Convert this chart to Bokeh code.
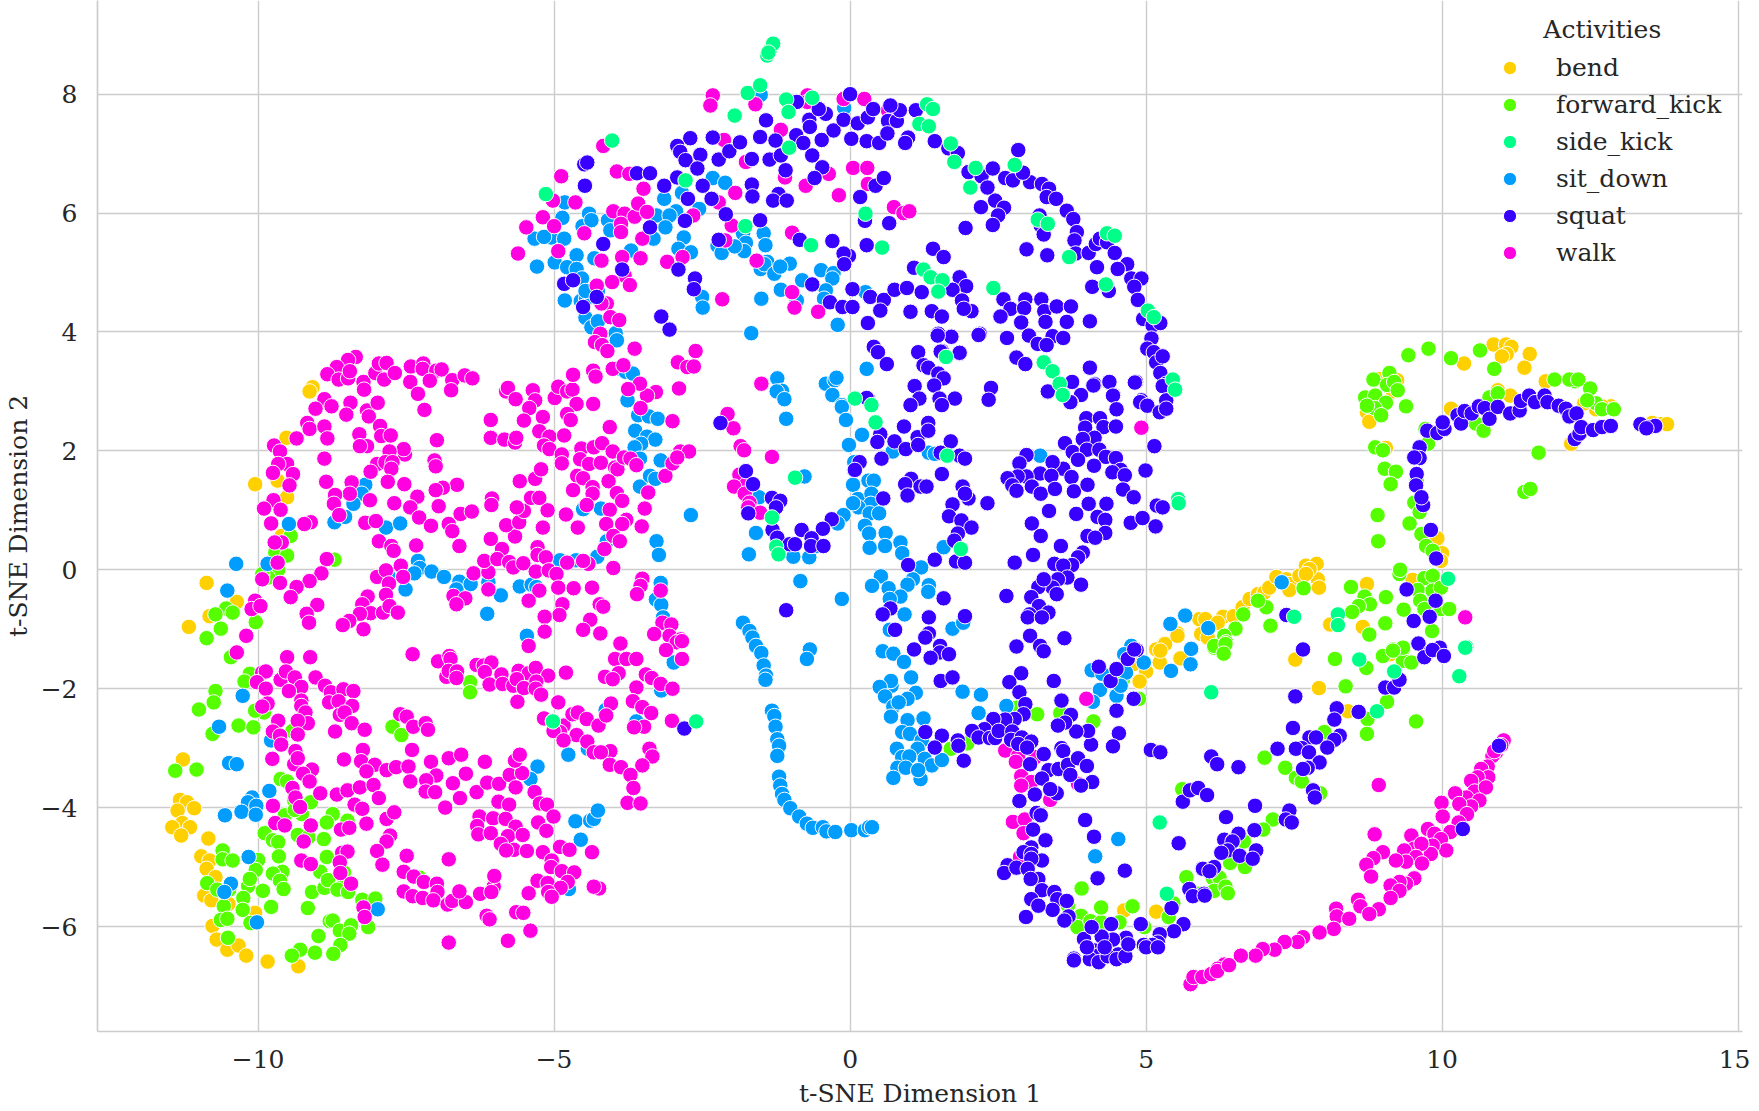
from bokeh.plotting import figure
from bokeh.models import Range1d, FixedTicker, Legend, LegendItem, Label, ColumnDataSource
from bokeh.embed import file_html
from bokeh.resources import INLINE

bend = [(-9.08,3.07),(-9.13,3.0),(-9.52,2.22),(-10.05,1.44),(-9.67,1.5),(-9.51,1.22),(-9.6,0.57),(-10.87,-0.22),(-10.36,-0.54),(-10.82,-0.78),(-11.17,-0.96),
(-11.27,-3.19),(-11.32,-3.87),(-11.2,-3.91),(-11.08,-4.01),(-11.36,-4.05),(-11.28,-4.26),(-11.15,-4.33),(-11.45,-4.33),(-11.3,-4.47),(-10.84,-4.52),(-10.96,-4.82),(-10.82,-4.89),(-10.87,-5.03),(-10.72,-5.17),(-10.91,-5.48),(-10.79,-5.56),(-10.05,-5.77),(-10.5,-5.62),(-10.77,-5.99),(-10.7,-6.22),(-10.52,-6.39),(-10.33,-6.32),(-10.2,-6.49),(-9.84,-6.59),(-9.32,-6.67),
(10.87,3.79),(11.08,3.79),(11.17,3.75),(11.09,3.63),(11.01,3.59),(11.48,3.63),(10.37,3.47),(11.39,3.4),(11.75,3.17),(9.17,3),(9.24,3.19),(8.94,3.21),(8.73,2.65),(8.77,2.49),(10.15,2.71),(10.94,3.02),(11.15,2.93),(12.18,2.12),(9.05,2.05),(9.92,.53),(10,.28),(9.98,.15),(5.53,-1.07),(5.31,-1.24),(9.5,-.17),(8.73,-.24),(8.66,-.96),(8.11,-.92),
(5.17,-1.34),(5.9,-.83),(6,-.83),(6.3,-.79),(6.21,-.89),(5.93,-1.08),(6.04,-1.14),(6.48,-.78),(6.63,-.63),(6.75,-.49),(6.89,-.41),(7,-.38),(7.08,-.3),(7.2,-.12),(7.37,-.16),(7.42,-.24),(7.42,-.34),(7.59,-.1),(7.7,.07),(7.88,.1),(7.9,-.16),(7.92,-.3),(7.76,.01),(7.7,-.07),
(4.63,-5.73),(5.17,-5.75),(4.78,-1.59),(5,-1.71),(4.89,-1.88),(5.23,-1.56),(5.32,-1.25),(5.58,-1.49),(5.53,-1.11),(5.24,-1.36),(7.52,-1.51),(7.92,-1.99),(8.41,-2.38),(9.12,-1.42),
(13.7,2.45),(13.8,2.45),(13.55,2.47),(12.85,2.75),(12.6,2.7),(12.4,2.8),(12.7,2.75)]

forward_kick = [(-9.45,0.57),(-9.71,0.29),(-9.51,0.24),(-8.71,0.17),(-9.66,0.0),(-9.83,-0.13),(-9.93,-0.07),(-10.54,-0.65),(-10.72,-0.75),(-10.43,-0.72),(-10.04,-0.88),(-10.63,-0.99),(-10.87,-1.15),(-10.46,-1.47),
(-10.14,-1.75),(-10.23,-1.88),(-10.72,-2.04),(-10.75,-2.23),(-11.0,-2.35),(-9.9,-2.4),(-10.05,-2.37),(-10.77,-2.76),(-10.33,-2.62),(-10.08,-2.65),(-9.42,-2.71),(-11.4,-3.38),(-11.04,-3.36),(-9.62,-3.52),(-9.51,-3.56),(-9.39,-3.88),(-9.11,-3.91),(-9.55,-4.13),(-9.26,-4.11),(-9.38,-4.04),(-8.74,-4.11),(-8.84,-4.25),(-8.49,-4.22),(-9.89,-4.43),(-9.75,-4.55),(-9.66,-4.58),(-9.33,-4.46),(-9.15,-4.5),(-8.89,-4.53),(-9.65,-4.82),(-8.84,-4.83),(-10.6,-4.72),(-10.6,-4.87),(-10.43,-4.89),(-10.0,-4.88),(-10.04,-5.05),(-9.59,-5.08),(-9.75,-5.11),(-9.63,-5.23),(-9.57,-5.37),(-9.92,-5.4),(-10.17,-5.32),(-10.14,-5.2),(-10.86,-5.27),(-10.69,-5.38),(-10.49,-5.38),(-10.25,-5.52),(-10.58,-5.66),(-10.26,-5.72),(-9.78,-5.67),(-9.16,-5.69),(-9.09,-5.42),(-8.88,-5.35),(-8.95,-5.08),(-8.82,-5.22),(-8.54,-5.26),(-8.55,-5.09),(-8.66,-5.38),(-8.48,-5.42),(-8.24,-5.55),(-8.02,-5.53),(-10.13,-5.94),(-10.63,-5.89),(-10.52,-5.87),(-8.79,-5.91),(-8.74,-5.9),(-8.62,-6.07),(-8.43,-5.98),(-8.46,-6.12),(-8.14,-6.01),(-8.98,-6.16),(-10.51,-6.19),(-8.61,-6.31),(-8.73,-6.46),(-9.04,-6.44),(-9.29,-6.39),(-9.43,-6.49),(-7.73,-2.64),(-7.58,-2.78),(-6.42,-1.89),(-6.42,-2.06),(-7.27,-5.18),
(2.81,-2.32),(3.16,-2.43),(3.55,-2.41),(4.11,-2.55),(1.7,-3.01),(1.98,-2.92),(3.91,-5.36),(3.68,-5.65),(3.9,-5.82),(3.84,-6.01),(4.06,-5.91),(4.88,-2.17),(5.61,-3.69),(4.61,-1.84),
(9.43,3.61),(9.77,3.72),(10.15,3.56),(10.64,3.69),(10.88,3.38),(12.25,3.17),(10.8,2.9),(10.94,2.97),(10.57,2.46),(10.7,2.34),(9.39,2.75),(9.11,3.31),(8.84,3.2),(9.07,3.11),(9.19,3.16),(9.25,3.02),(8.7,2.9),(8.87,2.93),(9.05,2.81),(8.86,2.72),(8.73,2.76),(8.97,2.6),(8.87,2.06),(9,2.01),(9.03,1.7),(9.22,1.65),(9.13,1.44),(8.91,.92),(8.92,.48),(9.45,.78),(9.65,.6),(9.53,1.13),(9.62,.97),(11.63,1.97),(11.39,1.31),(11.49,1.36),(9.76,2.12),(9.72,2.37),(9.57,1.5),(9.73,.4),(9.84,.32),(9.28,-.07),(9.29,0),(9.7,-.14),(9.84,-.1),(9.59,-.34),(9.84,-.35),(9.98,-.3),(9.63,-.52),(9.7,-.66),(9.98,-.66),(10.12,-.66),(9.35,-.67),(9.04,-.9),(9.83,-1.03),(9.05,-.46),(8.46,-.29),(8.69,-.45),(8.78,-.58),(8.59,-.61),(8.48,-.71),(8.77,-1.09),(7.1,-.94),(7.03,-.63),(6.89,-.52),(6.64,-.75),(6.51,-.99),(7.66,-.31),(6.32,-1.11),(6.35,-1.22),(6.15,-1.31),(9.34,-1.34),(9.17,-1.34),
(8.19,-1.5),(8.72,-1.65),(8.37,-1.96),(9.07,-2.22),(8.74,-2.51),(8.73,-2.76),(9.56,-2.55),(8.01,-2.73),(7,-3.16),(7.35,-3.33),(7.53,-3.5),(7.63,-3.56),(7.94,-3.76),(7.14,-4.2),(6.98,-4.37),(6.65,-4.57),(6.42,-4.93),(6.67,-5),(5.68,-5.17),(6.13,-5.19),(6.24,-5.18),(6.15,-5.4),(6.34,-5.33),(6.38,-5.44),(5.88,-5.45),(5.46,-5.61),(5.38,-5.84),(4.97,-6.01),(4.77,-5.66),(4.55,-5.93),(4.24,-5.93),(4.24,-5.68),(6.15,-1.28),(6.34,-1.25),(6.31,-1.41),(9,-1.45),(9.34,-1.53),(9.48,-1.56),(9.34,-1.31),(9.17,-1.36),
(11.9,3.2),(12.15,3.2),(12.3,3.2),(12.5,3.05),(12.6,2.8),(12.45,2.85),(12.7,2.7),(12.9,2.7)]

side_kick = [(-1.4,8.65),(-1.35,8.75),(-1.3,8.85),(-1.38,8.7),
(-1.73,8.02),(-1.52,8.15),(-1.95,7.64),(-1.08,7.91),(-0.64,7.94),(-1.04,7.7),(-4.02,7.22),(-1.03,7.1),(1.3,7.83),(1.4,7.75),(1.17,7.5),(1.33,7.46),(1.7,7.17),(1.76,6.86),(2.12,6.76),(2.78,6.81),(2.03,6.43),(-2.78,6.55),(-5.14,6.32),(.26,5.99),(-1.77,5.78),(-.66,5.46),(.54,5.42),(3.17,5.89),(3.34,5.82),(4.34,5.66),(4.47,5.62),(4.32,4.8),(3.7,5.26),(1.24,5.05),(1.36,4.92),(1.56,4.87),(1.49,4.68),(2.42,4.74),(5.03,4.36),(5.13,4.25),(1.62,3.58),(3.27,3.49),(3.42,3.34),(3.54,3.13),(3.59,2.94),(5.45,3.2),(5.49,3.03),(.08,2.88),(.36,2.77),
(.43,2.48),(1.64,1.92),(-.93,1.55),(5.54,1.19),(5.55,1.12),(-1.32,.88),(-1.25,.39),(-1.21,.26),(1.87,.35),
(5.23,-4.25),(6.1,-2.06),(5.35,-5.45),(10.1,-.15),(7.5,-.79),(8.24,-.75),(8.24,-.93),(10.41,-1.3),(8.6,-1.51),(8.9,-2.38),(9.19,-1.71),(10.39,-1.31),(10.29,-1.79),(-5.02,-2.55),(-2.6,-2.55)]

sit_down = [(-9.48,0.77),(-10.37,0.1),(-10.52,-0.35),(-9.84,0.10),(-8.19,1.43),(-8.25,1.28),(-8.39,1.11),(-8.71,0.80),(-8.53,0.89),(-7.84,0.71),(-7.6,0.78),(-7.3,0.15),(-7.27,0.03),(-7.36,-0.06),(-7.07,-0.03),(-6.86,-0.12),(-6.6,-0.2),(-6.65,-0.33),(-6.41,-0.24),(-6.11,-0.21),(-5.9,-0.43),(-6.13,-0.74),(-5.58,-0.28),(-5.38,-0.25),(-5.3,-0.29),(-5.46,-1.11),(-7.51,-0.33),(-7.79,-0.12),(-4.9,0.16),(-4.63,0.16),(-4.27,0.22),(-4.11,0.48),(-4.21,1.03),(-4.51,1.02),(-3.55,1.4),(-3.38,1.58),(-3.29,1.53),(-3.2,1.84),(-3.58,2.6),(-3.4,2.58),(-3.25,2.54),(-3.76,2.85),(-3.63,2.34),(-3.43,2.24),(-3.29,2.19),(-3.53,2.12),(-3.64,2.06),(-3.55,1.87),(-3.88,3.38),(-3.79,3.33),(-3.67,3.3),(-3.97,3.97),(-3.94,3.86),(-2.69,0.92),(-3.27,0.48),(-3.23,0.25),(-3.2,-0.22),(-3.28,-0.5),(-3.19,-0.59),(-3.16,-0.8),
(-10.26,-2.12),(-10.66,-2.64),(-9.78,-2.87),(-10.49,-3.25),(-10.36,-3.27),(-9.81,-3.72),(-10.1,-3.83),(-10.17,-3.91),(-10.03,-3.97),(-10.28,-4.07),(-10.04,-4.12),(-10.56,-4.13),(-10.16,-4.83),(-10.46,-5.28),(-10.57,-5.42),(-10.02,-5.93),(-7.98,-5.71),(-4.13,-2.36),(-3.61,-2.55),(-3.19,-2.03),(-2.98,-1.56),(-4.76,-3.11),(-4.43,-3.01),(-5.28,-3.31),(-5.4,-3.52),(-4.64,-4.23),(-4.39,-4.22),(-4.33,-4.19),(-4.26,-4.05),(-4.55,-4.54),(-4.75,-5.37),
(-1.51,7.99),(-.1,7.77),(-4.82,6.18),(-4.86,5.92),(-4.41,5.99),(-4.52,5.78),(-4.37,5.88),(-4.09,5.88),(-4.05,5.71),(-5.33,5.57),(-5.05,5.59),(-4.83,5.57),(-5.17,5.6),(-3.14,6.24),(-2.84,6.34),(-3.27,5.96),(-2.94,6.03),(-3.05,5.96),(-3.12,5.76),(-3.32,5.57),(-2.81,5.59),(-2.9,5.4),(-2.69,5.34),(-2.55,6.07),(-2.32,6.59),(-2.11,6.51),(-1.81,5.66),(-1.76,5.5),(-1.46,5.66),(-1.43,5.46),(-1.79,5.36),(-2.24,5.45),(-2.17,5.33),(-1.95,5.44),(-3.7,5.37),(-4.62,5.29),(-4.32,5.24),(-5.29,5.1),(-4.99,5.17),(-4.78,5.09),(-4.62,5.06),(-4.53,4.9),(-1.51,5.06),(-1.4,5.18),(-1.45,5.14),(-1.02,5.15),(-1.28,4.98),(-1.18,5.1),(-.49,5.04),(-.28,4.99),(-.3,4.9),(-.81,4.87),(-1.17,4.71),(-.41,4.7),(-.44,4.56),(-.9,4.53),(.26,4.67),(-1.5,4.56),(-2.5,4.59),(-2.49,4.41),(-4.82,4.53),(-4.55,4.52),(-4.46,4.56),(-4.26,4.69),(-4.47,4.69),(-4.47,4.24),(-4.37,4.08),(-4.26,4.18),(-3.96,3.98),(-3.94,3.86),(-.21,4.12),(-1.67,3.98),(.28,3.38),(-1.23,3.22),(-1.15,3.01),(-1.24,3.0),(-1.11,2.87),(-.41,3.13),(-.26,3.19),(-.23,3.23),(-.3,2.94),(-.14,2.77),
(-1.08,2.54),(-.14,2.74),(-.07,2.52),(.2,2.27),(-.02,2.1),(.72,1.99),(1.33,1.97),(1.43,1.95),(.07,1.81),(.07,1.67),(.31,1.5),(.05,1.43),(.4,1.5),(.13,1.19),(.36,1.28),(.35,1.11),(.14,1.05),(.05,1.12),(.33,.95),(.49,.95),(-.11,.92),(-.21,.78),(-.77,1.57),(-1.54,1.22),(-1.59,.62),(-1.71,.26),(-.96,.22),(-.69,.21),(-.57,.4),(.25,.74),(.32,.61),(.6,.62),(.33,.37),(.59,.4),(.85,.46),(.88,.28),(1.2,.04),(1.06,-.16),(.97,-.25),(1.33,-.26),(1.32,-.37),(1.58,.38),(.52,-.11),(.37,-.27),(.65,-.31),(.85,-.45),(.67,-.49),(.92,-.75),(-.84,-.19),(-.14,-.49),(-1.81,-.89),(-1.7,-1.03),(-1.65,-1.14),(-1.59,-1.28),(-1.5,-1.4),(-.68,-1.34),(-.73,-1.5),(1.73,-.99),(1.91,-.89),(.55,-1.37),(.73,-1.41),(.67,-1.01),(3.21,1.92),
(-1.46,-1.61),(-1.42,-1.78),(-1.43,-1.85),(.91,-1.55),(1.03,-1.81),(1.11,-2.07),(.97,-2.17),(.7,-1.95),(.69,-1.87),(.5,-1.97),(.59,-2.13),(.73,-2.3),(.82,-2.23),(.69,-2.47),(.97,-2.53),(1.24,-2.5),(.88,-2.73),(1.01,-2.76),(1.21,-2.87),(.79,-3.01),(.88,-3.15),(1.14,-3.01),(1,-3.14),(1.26,-3.18),(1.38,-3.29),(1.55,-3.2),(.8,-3.33),(.94,-3.33),(.73,-3.5),(1.19,-3.52),(1.15,-3.37),(1.9,-2.05),(2.21,-2.1),(2.17,-2.41),(2.64,-2.29),(-1.32,-2.37),(-1.28,-2.46),(-1.26,-2.64),(-1.23,-2.85),(-1.2,-2.96),(-1.23,-3.13),(-1.2,-3.48),(-1.18,-3.63),(-1.15,-3.77),(-1.11,-3.87),(-1.01,-4.01),(-.86,-4.15),(-.73,-4.27),(-.63,-4.34),(-.46,-4.33),(-.4,-4.4),(-.25,-4.41),(.02,-4.38),(.25,-4.38),(.32,-4.33),(.37,-4.33),
(4.08,-1.69),(4.22,-2.02),(4.1,-2.22),(4.26,-1.75),(4.5,-2.12),(4.66,-1.73),(4.75,-1.28),(4.63,-1.42),(4.96,-1.56),(4.57,-1.95),(5.76,-1.33),(5.42,-1.7),(5.75,-1.59),(4.14,-4.82),(4.53,-4.53),(5.41,-.91),(5.66,-.77),(6.05,-.98),(7.29,-.21)]

squat = [(0,8.0),(-.9,7.87),(-1.42,7.56),(-2.7,7.26),(-2.32,7.27),(-2.92,7.13),(-2.87,7.03),(-2.78,6.89),(-2.53,6.98),(-2.58,6.75),(-2.22,6.9),(-2.04,7.04),(-1.86,7.19),(-1.66,6.91),(-1.52,7.28),(-1.36,6.9),(-1.26,7.22),(-1.17,6.97),(-1.09,6.72),(-.91,7.31),(-.79,7.18),(-.64,6.97),(-.48,7.23),(-.47,6.77),(-.6,6.59),(-.28,7.39),(-.69,7.57),(-.41,7.67),(-.68,7.45),(-.53,7.75),(-.11,7.57),(.02,7.25),(.13,7.51),(.28,7.21),(.3,7.61),(.39,7.75),(.49,7.18),(.64,7.55),(.63,7.34),(.79,7.55),(.84,7.73),(.68,7.81),(1.11,7.73),(.98,7.27),(.93,7.18),(1.43,7.21),(1.66,7.09),(1.82,7.01),(2.84,7.06),(-4.49,6.82),(-4.44,6.85),(-4.48,6.46),(-3.6,6.67),(-3.38,6.67),(-3.14,6.46),(-2.92,6.6),(-2.49,6.46),(-2.34,6.24),(-1.66,6.48),(-1.65,6.28),(-1.21,6.32),(-1.3,6.21),(-1.07,6.21),(-2.74,6.24),(-2.1,5.98),(-2.79,5.87),(-3.38,5.76),(-1.52,5.88),(-4.17,5.48),(-2.22,5.55),(-.85,5.55),(-.3,5.53),(.28,5.46),(-.02,5.28),(-.11,5.32),(-.1,5.14),(.43,6.46),(.57,6.59),(.17,6.27),(.25,5.87),(.66,5.83),(1.95,5.75),(2.21,6.1),(2.45,6.21),(2.6,6.09),(2.5,5.96),(2.41,5.8),(2.0,6.69),(2.22,6.62),(2.41,6.75),(2.32,6.43),(2.62,6.59),(2.75,6.55),(3.04,6.52),(3.24,6.49),(2.92,6.68),(3.36,6.41),(3.32,6.27),(3.48,6.24),(3.66,6.04),(3.77,5.9),(3.2,5.96),(3.22,5.79),(3.27,5.64),(3.83,5.68),(3.79,5.54),(2.98,5.39),(3.33,5.29),(3.81,5.32),(4.03,5.33),(4.15,5.48),(4.22,5.57),(4.34,5.51),(4.47,5.33),(4.17,5.09),(4.68,5.14),(4.52,5.06),(4.75,4.9),(4.92,4.9),(4.8,4.76),(4.09,4.76),(4.37,4.69),(4.86,4.54),(4.95,4.22),(5.11,4.11),(5.24,4.15),(5.09,3.89),(5.02,3.72),(5.13,3.66),(5.17,3.49),(5.28,3.59),(5.24,3.31),(5.34,3.13),(5.28,3.09),(5.34,2.85),(4.92,2.85),(5.02,2.77),(4.83,3.16),
(-2.9,5.05),(-2.62,4.9),(-2.64,4.72),(-3.85,5.05),(-4.83,4.81),(-4.68,4.87),(-4.28,4.59),(-4.51,4.42),(-3.19,4.26),(-3.05,4.04),(-.64,4.8),(-.34,4.5),(-.13,4.42),(.04,4.42),(.04,4.72),(.34,4.59),(.57,4.54),(.51,4.36),(.3,4.15),(.75,4.71),(.96,4.74),(1.21,4.67),(1.08,5.08),(1.85,4.92),(1.96,4.77),(1.73,4.71),(1.89,4.53),(2.05,4.35),(1.92,4.39),(1.4,5.4),(1.58,5.26),(1.02,4.34),(1.38,4.35),(1.55,4.26),
(2.59,4.55),(2.71,4.39),(2.54,4.26),(2.96,4.55),(2.94,4.4),(3.23,4.55),(3.28,4.35),(3.49,4.43),(3.73,4.43),(2.89,4.16),(3.3,4.17),(3.66,4.17),(4.05,4.18),(2.19,3.97),(1.49,3.97),(1.71,3.93),(2.65,3.9),(3.02,3.94),(3.17,3.8),(3.42,3.93),(3.6,3.9),(3.32,3.78),(.4,3.75),(.47,3.66),(.62,3.46),(1.15,3.66),(1.55,3.68),(1.85,3.64),(1.24,3.44),(1.32,3.4),(1.49,3.3),(1.58,3.22),(2.81,3.57),(2.96,3.46),(4.05,3.4),(3.75,3.16),(4.13,3.12),(4.37,3.16),(4.45,2.94),(3.9,2.94),(3.34,2.99),(3.73,2.82),(1.09,3.09),(1.42,3.1),(1.17,2.88),(1.51,2.88),(1.77,2.88),(2.38,3.06),(2.34,2.86),(.3,2.88),(1.02,2.77),(1.55,2.77),
(1.53,3.67),(1.85,3.65),(1.71,3.92),(1.48,3.94),(2.17,3.95),(4.11,3.1),(4.38,3.16),(4.81,3.15),(4.44,2.93),(3.72,2.82),(3.34,3.0),(4.5,2.7),(.28,2.89),(4.9,2.82),(5.02,2.76),(5.23,2.65),(5.34,2.71),(3.99,2.55),(4.22,2.55),(4.28,2.4),(4.49,2.41),(3.97,2.39),(4.13,2.22),(3.93,2.2),(3.63,2.13),(3.76,1.98),(4,2.02),(4.21,2.02),(3.85,1.85),(4.32,1.9),(4.49,1.88),(4.12,1.75),(4.57,1.68),(4.43,1.64),(4.64,1.59),(4.99,1.67),(5.14,2.08),(3.6,1.7),(3.74,1.56),(3.42,1.81),(2.98,1.93),(2.86,1.79),(3.21,1.62),(3.4,1.58),(2.98,1.57),(2.83,1.57),(2.66,1.54),(2.74,1.42),(2.81,1.33),(3.07,1.4),(3.22,1.28),(3.46,1.36),(3.78,1.32),(4.01,1.43),(4.61,1.35),(4.79,1.22),(4.03,1.11),(4.33,1.11),(3.36,.99),(3.82,.94),(4.18,.89),(4.31,.84),(4.74,.79),(4.94,.87),(5.16,.73),(5.18,1.08),(5.28,1.05),(3.07,.78),(3.22,.57),(4.01,.57),(4.31,.62),(4.14,.54),(3.56,.4),(3.09,.25),(2.78,.12),(3.93,.29),(3.85,.21),(3.75,.08),(3.45,.1),(3.6,.07),(3.67,-.13),(3.51,-.16),(3.9,-.25),(3.42,-.3),(3.18,-.29),(3.27,-.16),(3.49,-.41),(3.06,-.46),(2.64,-.44),(3.19,-.61),(3.35,-.72),(3.03,-.75),(3,-.8),(3.24,-.8),(3.04,-1.11),(2.81,-1.29),(3.21,-1.28),(3.62,-1.15),(3.27,-1.37),
(-2.19,2.47),(-1.76,1.66),(.91,2.41),(1.32,2.47),(.51,2.28),(.46,2.15),(.75,2.16),(.94,2.03),(1.14,2.23),(1.15,2.1),(1.32,2.34),(1.7,2.16),(1.53,1.97),(1.85,1.92),(1.94,1.87),(.53,1.87),(.16,1.81),(.08,1.68),(1.55,1.61),(1.03,1.53),(.93,1.44),(1.19,1.4),(1.29,1.4),(.97,1.25),(.56,1.2),(-1.64,1.44),(-1.32,1.21),(-1.18,1.16),(-1.25,1.05),(-1.72,.95),(1.9,1.4),(2,1.2),(1.94,1.28),(1.73,1.1),(2.32,1.12),(1.67,.9),(1.88,.83),(2.05,.71),(1.82,.61),(1.76,.49),(1.79,.14),(1.94,.12),(1.43,.17),(.98,.08),(-.31,.85),(-.46,.69),(-.82,.67),(-1.31,.67),(-1.23,.54),(-1.02,.43),(-.93,.43),(-.65,.53),(-.66,.4),(-.45,.4),(-1.08,-.68),(.68,-.65),(.55,-.75),(.76,-1.01),(1.58,-.48),(1.33,-.8),(1.94,-.78),(1.33,-1.07),(1.27,-1.14),(1.08,-1.34),(1.52,-1.28),(1.52,-1.39),(1.67,-1.42),(1.36,-1.48),
(4.2,-1.63),(4.4,-1.87),(4.5,-1.67),(4.69,-1.5),(4.84,-1.35),(4.79,-2.17),(4.5,-2.37),(4.54,-2.75),(4.44,-2.97),(4.07,-2.94),(4.02,-2.71),(3.82,-2.72),(3.73,-2.44),(3.63,-2.57),(3.51,-2.62),(3.57,-2.2),(3.44,-1.87),(2.89,-1.74),(2.69,-1.89),(2.86,-2.06),(2.96,-2.26),(2.93,-2.43),(2.78,-2.51),(2.62,-2.52),(2.42,-2.51),(2.27,-2.68),(2.06,-2.71),(2.17,-2.82),(2.36,-2.83),(2.45,-2.83),(2.51,-2.71),(2.74,-2.72),(2.72,-2.86),(2.9,-2.82),(3.06,-2.89),(2.84,-2.93),(2.99,-2.99),(3.27,-3.1),(3.04,-3.27),(3.35,-3.37),(3.24,-3.51),(3.52,-3.35),(3.57,-3),(3.6,-3.05),(3.68,-3.28),(3.85,-3.17),(4,-3.3),(3.72,-3.45),(4.09,-3.57),(3.9,-3.63),(3.12,-3.78),(3.49,-3.76),(3.38,-3.69),(2.86,-3.89),(3.15,-4.09),(3.22,-4.13),(3.09,-4.37),(3.3,-4.55),(3.06,-4.67),(2.93,-4.75),(3.06,-4.78),(3.24,-4.89),(3.06,-4.86),(2.66,-4.97),(2.6,-5.1),(2.81,-5.01),(3,-5.03),(3.18,-5.2),(3.05,-5.2),(3.24,-5.39),(3.06,-5.54),(3.45,-5.42),(3.5,-5.54),(3.66,-5.57),(3.42,-5.72),(3.69,-5.83),(3.62,-5.9),(2.97,-5.84),(3.18,-5.65),(3.97,-4.21),(4.12,-4.49),(4.18,-5.19),(4.64,-5.06),(5.55,-4.6),(5.08,-3.03),(5.24,-3.07),(6.1,-3.14),(6.2,-3.27),(6.56,-3.32),(5.62,-3.9),(5.74,-3.71),(5.88,-3.67),(6.03,-3.79),(6.35,-4.16),(6.32,-4.54),(6.47,-4.55),(5.95,-5.03),(6.1,-5.06),(5.78,-5.48),(5.98,-5.45),(5.43,-5.69),(5.63,-5.96),(5.47,-6.08),(5.23,-6.13),(5.2,-6.27),(5.11,-6.31),(4.96,-6.31),(4.91,-5.96),(4.41,-5.96),(4.66,-6.19),(4.44,-6.22),(4.25,-6.17),(3.95,-6.21),(4.11,-6.4),(4.18,-6.49),(4.53,-6.47),(3.78,-6.54),(4.08,-6.01),
(1.55,-2.79),(1.27,-2.73),(1.82,-2.87),(1.83,-2.96),(1.92,-3.21),(1.43,-2.99),(1.53,-1.87),(1.73,-1.81),(3.78,-6.57),(4.05,-6.55),(4.2,-6.6),(4.35,-6.5),(4.5,-6.55),(4.65,-6.5),(4.7,-6.3),(4.3,-6.35),(4.0,-6.35),(5.0,-6.35),(5.2,-6.35),
(9.62,2.06),(9.62,1.88),(9.53,1.89),(9.57,1.61),(9.56,1.42),(9.68,1.09),(9.65,1.22),(9.81,.67),(9.9,.19),(9.75,2.34),(9.92,2.3),(10.04,2.37),(10.01,2.48),(10.26,2.6),(10.32,2.46),(10.38,2.67),(10.5,2.63),(10.62,2.75),(10.72,2.72),(10.8,2.54),(10.94,2.74),(11.15,2.63),(11.31,2.68),(11.33,2.84),(11.47,2.93),(11.57,2.82),(11.73,2.93),(11.78,2.82),(11.97,2.76),(12.09,2.71),(12.15,2.58),(12.27,2.63),(12.24,2.2),(12.32,2.29),(12.35,2.4),(12.55,2.35),(12.7,2.4),(12.85,2.42),(13.35,2.45),(13.5,2.4),(13.6,2.42),(13.45,2.38),
(9.4,-.33),(9.89,-.52),(9.79,-.79),(9.52,-.86),(9.6,-1.24),(9.81,-1.37),(9.96,-1.31),(7.37,-.76),(7.65,-1.34),(4.8,-1.34),
(7.52,-2.13),(9.04,-1.98),(9.19,-1.98),(9.28,-1.85),(9.7,-1.47),(9.84,-1.35),(10.03,-1.45),(8.22,-2.33),(8.18,-2.52),(8.59,-2.39),(7.48,-2.66),(7.76,-2.82),(7.87,-2.82),(8.27,-2.79),(8.18,-2.86),(8.06,-2.99),(7.63,-3),(7.53,-3.01),(7.75,-3.07),(7.22,-3.01),(7.93,-3.24),(7.73,-3.33),(7.65,-3.35),(7.82,-3.71),(7.85,-3.83),(7.42,-4.05),(7.36,-4.2),(7.46,-4.25),(6.84,-3.97),(6.83,-4.38),(6.56,-4.44),(6.46,-4.57),(6.38,-4.72),(6.27,-4.76),(6.58,-4.81),(6.86,-4.72),(6.8,-4.86),(5.96,-5.03),(6.15,-5),(6.07,-5.07),(5.73,-5.37),(5.79,-5.49),(5.99,-5.48),(10.96,-2.96),(10.35,-4.36),(-2.8,-2.67)]

walk = [(-8.35,3.58),(-8.48,3.53),(-8.67,3.41),(-8.83,3.29),(-8.64,3.20),(-8.48,3.22),(-8.45,3.34),(-8.22,3.16),(-8.21,3.03),(-8.02,3.31),(-7.96,3.47),(-7.83,3.48),(-7.87,3.20),(-7.69,3.31),(-7.42,3.42),(-7.21,3.47),(-7.22,3.38),(-6.99,3.35),(-6.90,3.37),(-7.43,3.16),(-7.10,3.18),(-7.30,2.96),(-6.72,3.19),(-6.74,3.02),(-6.51,3.27),(-6.38,3.22),(-7.19,2.69),(-8.88,2.87),(-9.03,2.71),(-8.76,2.75),(-8.44,2.81),(-8.51,2.61),(-8.16,2.68),(-8.13,2.58),(-7.98,2.81),(-9.17,2.47),(-9.13,2.37),(-9.35,2.21),(-8.88,2.41),(-8.83,2.21),(-8.29,2.28),(-8.16,2.08),(-8.28,2.08),(-7.94,2.42),(-7.92,2.25),(-7.76,2.26),(-7.52,1.94),(-7.54,2.03),(-7.78,1.99),(-6.98,2.18),(-9.73,2.09),(-9.63,1.99),(-8.88,1.87),(-9.51,1.78),(-9.66,1.78),(-9.75,1.63),(-9.41,1.61),(-9.47,1.42),(-7.99,1.78),(-7.85,1.81),(-7.73,1.81),(-7.75,1.70),(-8.10,1.65),(-7.02,1.84),(-7.00,1.74),(-8.85,1.48),(-8.42,1.47),(-7.81,1.48),(-7.53,1.44),(-6.64,1.43),(-6.88,1.38),(-7.0,1.34),(-8.45,1.28),(-8.70,1.26),(-8.72,1.11),(-8.11,1.17),(-7.31,1.23),(-7.70,1.12),(-7.43,1.05),(-6.95,1.07),(-9.74,1.17),(-9.90,1.03),(-9.62,1.01),(-8.63,0.92),(-7.28,0.88),(-6.58,0.94),(-6.39,0.98),(-9.78,0.78),(-9.11,0.80),(-9.22,0.77),(-8.19,0.79),(-8.01,0.82),(-7.08,0.74),(-6.78,0.77),(-6.72,0.65),(-7.96,0.48),(-7.75,0.40),(-7.71,0.32),(-7.33,0.41),(-6.60,0.40),(-9.60,0.46),(-9.72,0.46),(-9.67,0.12),(-8.84,0.18),(-8.93,-0.06),(-9.13,-0.19),(-9.35,-0.29),(-9.45,-0.46),(-9.63,-0.22),(-9.93,-0.16),(-9.0,-0.59),(-9.18,-0.74),(-9.14,-0.89),(-10.05,-0.52),(-10.11,-0.66),(-9.96,-0.61),(-10.20,-1.11),(-10.36,-1.39),(-9.51,-1.47),(-9.12,-1.47),(-7.99,-0.12),(-7.84,-0.01),(-7.59,0.07),(-7.55,-0.12),(-7.79,-0.23),(-7.84,-0.42),(-8.15,-0.45),(-8.24,-0.58),(-8.10,-0.73),(-8.28,-0.74),(-7.89,-0.72),(-7.78,-0.61),(-7.64,-0.72),(-8.46,-0.86),(-8.57,-0.93),(-8.22,-1.0),(-7.39,-1.42),(-6.70,-0.44),(-6.50,-0.48),(-6.65,-0.58),(-6.36,-0.06),(-6.11,-0.04),(-6.11,-0.33),(-6.18,0.15),(-6.07,0.52),(-5.88,0.35),(-5.96,0.18),(-5.76,0.13),(-5.69,0.04),(-5.52,0.11),(-5.28,0.38),(-5.28,0.25),(-5.14,0.21),(-5.31,-0.03),(-5.09,-0.01),(-4.96,-0.07),(-5.66,0.56),(-5.81,0.75),(-5.59,0.80),(-5.19,0.71),(-5.11,1.0),(-5.51,0.99),(-5.63,1.05),(-5.39,1.21),(-5.25,1.21),(-5.58,1.49),(-5.32,1.53),(-5.22,1.69),(-6.05,1.2),(-6.06,1.09),(-6.07,2.52),(-6.07,2.22),(-5.84,2.19),(-5.66,2.14),(-5.64,2.22),(-5.81,3.0),(-5.78,3.06),(-5.65,2.87),(-5.36,3.02),(-5.32,2.85),(-5.42,2.72),(-5.51,2.51),(-5.19,2.57),(-5.25,2.33),(-5.08,2.24),(-5.17,2.09),(-5.08,2.03),(-4.83,2.26),(-4.87,1.94),(-4.87,1.79),(-4.99,2.89),(-4.93,3.08),(-4.78,3.0),(-4.69,3.03),(-4.68,3.28),(-4.62,2.79),(-4.78,2.62),(-4.72,2.52),(-4.34,2.79),(-4.34,3.35),(-4.30,3.25),(-4.54,2.04),(-4.33,2.06),(-4.19,2.13),(-4.01,1.99),(-4.56,1.86),(-4.41,1.78),(-4.21,1.80),(-3.97,1.72),(-3.93,1.69),(-3.82,1.89),(-3.71,1.87),(-3.61,1.76),(-4.61,1.58),(-4.51,1.54),(-4.08,1.49),(-4.68,1.34),(-4.35,1.39),(-4.35,1.28),(-3.94,1.29),(-3.85,1.16),(-3.41,1.30),(-3.12,1.58),(-3.0,1.79),(-2.87,1.99),(-2.72,1.99),(-2.92,1.89),(-2.89,3.05),(-3.0,2.5),(-4.06,2.4),(-3.64,3.72),(-2.61,3.68),(-2.91,3.49),(-2.75,3.41),(-2.64,3.42),(-3.28,2.99),(-3.43,2.93),(-3.55,3.13),(-3.75,3.04),(-3.54,2.72),(-4.22,3.97),(-4.31,3.83),(-4.19,3.78),(-4.10,3.68),(-4.01,3.38),(-3.83,3.44),(-4.45,1.09),(-4.06,1.01),(-4.8,0.93),(-4.6,0.71),(-4.12,0.77),(-3.78,0.84),(-3.85,0.77),(-3.52,0.73),(-3.47,1.03),(-4.0,0.57),(-3.89,0.48),(-4.15,0.35),(-4.42,0.10),(-4.51,0.15),(-4.0,0.03),(-4.78,0.12),(-4.93,-0.30),(-4.67,-0.31),(-4.36,-0.30),(-5.25,-0.35),(-5.43,-0.52),(-4.86,-0.58),(-4.91,-0.76),(-5.16,-0.79),(-5.16,-1.04),(-5.43,-1.28),(-4.39,-0.84),(-4.51,-1.01),(-4.22,-1.07),(-3.88,-1.24),(-4.23,-0.58),(-4.17,-0.62),(-3.51,-0.15),(-3.54,-0.27),(-3.6,-0.41),(-3.2,-0.35),(-3.17,-0.89),(-3.02,-0.92),(-3.31,-1.08),(-3.05,-1.11),(-2.86,-1.17),(-2.93,-1.22),(-3.11,-1.35),(-2.84,-1.5),(-3.97,-1.5),(-3.78,-1.5),(-3.61,-1.5),
(-9.93,-1.73),(-9.87,-1.71),(-10.02,-1.89),(-9.87,-2.0),(-9.62,-1.85),(-9.53,-1.71),(-9.38,-1.81),(-9.27,-1.97),(-9.48,-2.04),(-9.03,-1.81),(-8.87,-1.95),(-8.77,-2.06),(-8.56,-2.01),(-8.39,-2.04),(-8.8,-2.23),(-8.64,-2.21),(-8.41,-2.29),(-8.62,-2.44),(-8.54,-2.4),(-8.42,-2.58),(-8.2,-2.69),(-8.7,-2.72),(-9.27,-2.2),(-9.27,-2.29),(-9.2,-2.4),(-9.16,-2.58),(-9.33,-2.54),(-9.66,-2.54),(-9.75,-2.72),(-9.63,-2.79),(-9.61,-2.94),(-9.33,-2.77),(-9.84,-2.25),(-9.93,-2.3),(-9.37,-3.05),(-9.76,-3.18),(-9.39,-3.27),(-9.33,-3.17),(-9.09,-3.36),(-9.24,-3.43),(-9.13,-3.56),(-9.42,-3.67),(-9.37,-3.83),(-8.95,-3.76),(-8.67,-3.78),(-8.49,-3.71),(-8.28,-3.66),(-8.05,-3.62),(-7.96,-3.84),(-8.37,-3.95),(-8.24,-4.02),(-9.75,-3.97),(-9.29,-3.99),(-9.71,-4.26),(-9.55,-4.3),(-9.11,-4.3),(-9.23,-4.57),(-8.6,-4.37),(-8.46,-4.34),(-8.17,-4.27),(-7.83,-4.19),(-7.7,-4.08),(-7.77,-4.47),(-7.83,-4.57),(-7.99,-4.73),(-7.9,-4.96),(-8.58,-4.76),(-8.49,-4.74),(-9.27,-4.89),(-9.11,-4.95),(-8.62,-4.92),(-8.61,-5.1),(-8.43,-5.28),(-8.22,-5.68),(-8.2,-5.84),
(-8.23,-3.03),(-8.26,-3.22),(-8.55,-3.19),(-8.03,-3.28),(-8.17,-3.39),(-7.83,-3.37),(-7.67,-3.32),(-7.46,-3.31),(-7.43,-3.56),(-7.6,-2.43),(-7.49,-2.47),(-7.38,-2.64),(-7.17,-2.58),(-7.13,-2.69),(-7.4,-3.03),(-7.08,-3.23),(-6.78,-3.17),(-6.57,-3.11),(-6.49,-3.43),(-6.17,-3.23),(-6.99,-3.46),(-7.16,-3.54),(-6.71,-3.59),(-7.17,-3.73),(-7.01,-3.74),(-6.59,-3.84),(-6.84,-4.0),(-6.31,-3.74),(-6.13,-3.58),(-5.93,-3.6),(-5.75,-3.45),(-5.54,-3.42),(-5.65,-3.66),(-5.66,-3.21),(-5.58,-3.11),(-5.33,-3.74),(-5.94,-3.9),(-5.76,-3.95),(-5.24,-3.93),(-5.12,-3.95),(-5.01,-4.15),(-5.27,-4.25),(-5.13,-4.39),(-6.26,-4.15),(-6.03,-4.18),(-5.82,-4.19),(-5.65,-4.32),(-6.3,-4.31),(-6.28,-4.45),(-6.07,-4.43),(-5.78,-4.48),(-5.53,-4.46),(-5.9,-4.61),(-5.68,-4.71),(-5.81,-4.72),(-5.46,-4.73),(-5.19,-4.75),(-4.9,-4.66),(-4.74,-4.71),(-4.36,-4.75),(-5.04,-4.89),(-5.05,-5.0),(-4.87,-5.07),(-4.66,-5.09),(-4.77,-5.25),(-5.28,-5.23),(-5.11,-5.27),(-4.89,-5.35),(-5.1,-5.42),(-5.04,-5.5),(-5.43,-5.44),(-4.24,-5.36),(-4.33,-5.33),
(-7.54,-5.08),(-7.37,-5.16),(-7.2,-5.25),(-6.98,-5.28),(-6.97,-5.42),(-7.54,-5.41),(-7.39,-5.49),(-7.22,-5.52),(-7.04,-5.56),(-6.8,-5.63),(-6.72,-5.57),(-6.49,-5.59),(-6.6,-5.41),(-7.49,-4.81),(-6.78,-4.87),(-6.25,-5.45),(-6.02,-5.33),(-6.01,-5.15),(-6.06,-5.42),(-6.14,-5.82),(-6.09,-5.88),(-5.64,-5.76),(-5.52,-5.77),(-5.4,-6.07),(-5.78,-6.24),(-6.78,-6.27),
(-6.96,-1.54),(-6.77,-1.45),(-6.75,-1.5),(-6.82,-1.8),(-6.78,-1.7),(-6.64,-1.71),(-6.65,-1.82),(-6.31,-1.6),(-6.19,-1.61),(-6.06,-1.56),(-6.17,-1.72),(-5.89,-1.76),(-6.09,-1.93),(-5.87,-1.92),(-5.69,-1.95),(-5.6,-1.7),(-5.43,-1.74),(-5.31,-1.65),(-5.1,-1.78),(-5.3,-1.88),(-5.63,-1.84),(-5.51,-1.99),(-5.31,-2.0),(-5.22,-2.1),(-5.62,-2.22),(-4.93,-2.23),(-4.8,-1.73),(-3.91,-1.74),(-4.14,-1.8),(-4.01,-1.84),(-3.45,-1.76),(-3.35,-1.82),(-3.2,-1.92),(-3.0,-2.0),(-3.61,-1.98),(-3.67,-2.21),(-4.04,-2.25),(-3.51,-2.31),(-3.36,-2.41),(-5.17,-2.5),(-5.02,-2.54),(-4.84,-2.62),(-4.69,-2.43),(-4.6,-2.4),(-4.45,-2.51),(-4.25,-2.62),(-4.12,-2.45),(-4.9,-2.73),(-5.01,-2.71),(-4.62,-2.78),(-4.84,-2.87),(-4.44,-2.89),(-4.33,-3.07),(-4.05,-3.05),(-4.21,-3.07),(-3.48,-2.64),(-3.65,-2.65),(-3.01,-2.54),(-3.39,-3.01),(-3.34,-3.14),(-3.51,-3.29),(-4.06,-3.28),(-3.87,-3.32),(-3.71,-3.45),(-3.66,-3.67),(-3.76,-3.92),(-3.54,-3.93),
(-2.32,7.98),(-2.36,7.81),(-1.6,7.83),(-4.17,7.13),(-.72,7.98),(-.72,7.87),(.24,7.92),(-.11,7.92),(.64,7.73),(-1.17,7.4),(-2.13,7.23),(-1.76,6.86),(-1.1,6.6),(-.36,6.66),(-.75,6.46),(.05,6.76),(.29,6.76),(.3,6.49),(-.19,6.3),(.74,6.1),(.9,6.0),(1.0,6.03),(-3.94,6.7),(-3.73,6.66),(-4.88,6.62),(-3.49,6.41),(-1.94,6.34),(-2.22,6.18),(-5.02,6.21),(-4.64,6.18),(-5.19,5.93),(-5.47,5.76),(-5,5.78),(-4,6.03),(-3.81,5.99),(-3.64,5.94),(-3.58,6.16),(-3.43,6.02),(-3.87,5.82),(-3.87,5.68),(-4.49,5.66),(-3.51,5.57),(-2,5.79),(-2.11,5.54),(-2.65,5.96),(-5.61,5.32),(-4.93,5.36),(-4.2,5.2),(-3.85,5.26),(-3.54,5.24),(-3.09,5.18),(-2.83,5.26),(-1.58,5.2),(-.98,5.67),(-3.81,4.95),(-4.02,4.84),(-3.72,4.79),(-4.28,4.78),(-2.16,4.55),(-.98,4.67),(-.94,4.41),(-.54,4.34),(-4.11,4.48),(-4.2,4.48),(-4.05,4.25),(-3.9,4.2),(-1.49,3.13),
(-1.5,3.13),(-2.07,2.62),(-1.97,2.38),(-1.85,2.08),(-1.79,2.01),(-1.32,1.9),(-1.87,1.6),(-1.76,1.43),(-1.96,1.4),(-1.78,1.28),(-1.7,1.13),(-1.72,1.05),(-1.52,.96),(4.92,2.39),(-2.84,-1.2),
(2.62,-3.04),(3.13,-3.15),(2.84,-3.13),(2.8,-3.23),(2.89,-3.47),(3.06,-3.57),(2.89,-3.63),(3.85,-3.6),(3.38,-3.87),(2.75,-4.24),(2.95,-4.2),(2.93,-4.43),(2.87,-4.83),(3.99,-2.17),(10.39,-.8),
(11.04,-2.87),(10.91,-3.07),(10.85,-3.13),(10.77,-3.31),(10.66,-3.35),(10.78,-3.49),(10.6,-3.49),(10.49,-3.55),(10.55,-3.73),(10.74,-3.66),(10.41,-3.83),(10.22,-3.76),(10.63,-3.88),(10.49,-3.98),(9.99,-3.92),(10.29,-3.94),(10.42,-4.11),(10.01,-4.15),(10.28,-4.25),(10.14,-4.41),(9.76,-4.36),(9.87,-4.44),(9.98,-4.53),(9.48,-4.47),(10.07,-4.72),(9.84,-4.64),(9.81,-4.78),(9.53,-4.69),(9.65,-4.61),(9.36,-4.72),(9.56,-4.83),(9.39,-4.91),(9.22,-4.89),(9.66,-4.94),(9.53,-5.19),(9.39,-5.28),(9.28,-5.25),(9.13,-5.31),(9.28,-5.4),(9.13,-5.52),(9,-4.75),(8.84,-4.85),(8.72,-4.96),(8.8,-5.16),(8.86,-4.45),(8.93,-3.62),(8.93,-5.71),(8.58,-5.55),(8.62,-5.66),(8.77,-5.79),(8.21,-5.7),(8.22,-5.83),(8.43,-5.87),(8.17,-6.04),(7.93,-6.1),(7.65,-6.18),(7.56,-6.26),(7.34,-6.26),(7.17,-6.39),(6.97,-6.38),(6.85,-6.49),(6.6,-6.49),(6.32,-6.64),(6.21,-6.71),(5.75,-6.97),(5.8,-6.85),(5.95,-6.85),(6.1,-6.8),(6.2,-6.75),(6.4,-6.65),(11.0,-2.95),(10.93,-3.0),(10.88,-3.05)]

names = ["bend", "forward_kick", "side_kick", "sit_down", "squat", "walk"]
colors = {"bend": "#ffd000", "forward_kick": "#55ff00", "side_kick": "#00ff88",
          "sit_down": "#009dff", "squat": "#3700ff", "walk": "#ff00e1"}
series = {"bend": bend, "forward_kick": forward_kick, "side_kick": side_kick,
          "sit_down": sit_down, "squat": squat, "walk": walk}
draw_order = ["bend", "forward_kick", "sit_down", "walk", "squat", "side_kick"]
x_ticks = [-10, -5, 0, 5, 10, 15]
y_ticks = [-6, -4, -2, 0, 2, 4, 6, 8]
FONT = "DejaVu Serif"

p = figure(width=1748, height=1103, output_backend="svg", toolbar_location=None,
           x_range=Range1d(-12.713, 15.074), y_range=Range1d(-7.766, 9.576),
           x_axis_label="t-SNE Dimension 1", y_axis_label="t-SNE Dimension 2",
           frame_width=1645, frame_height=1031, min_border_left=90, min_border_right=8,
           min_border_top=0, min_border_bottom=72)
p.outline_line_color = None
p.background_fill_color = "white"
p.xaxis.ticker = FixedTicker(ticks=x_ticks)
p.yaxis.ticker = FixedTicker(ticks=y_ticks)
for g in (p.xgrid[0], p.ygrid[0]):
    g.grid_line_color = "#cccccc"
    g.grid_line_width = 1.4
for ax in (p.xaxis[0], p.yaxis[0]):
    ax.axis_line_color = "#cccccc"
    ax.axis_line_width = 1.7
    ax.major_tick_line_color = None
    ax.minor_tick_line_color = None
    ax.major_label_text_font = FONT
    ax.major_label_text_font_size = "25px"
    ax.major_label_text_color = "#262626"
    ax.axis_label_text_font = FONT
    ax.axis_label_text_font_size = "25px"
    ax.axis_label_text_font_style = "normal"
    ax.axis_label_text_color = "#262626"
p.xaxis[0].major_label_standoff = 12
p.yaxis[0].major_label_standoff = 14
p.xaxis[0].axis_label_standoff = 8
p.yaxis[0].axis_label_standoff = 5

renderers = {}
for n in draw_order:
    src = ColumnDataSource(data=dict(x=[a for a, _ in series[n]], y=[b for _, b in series[n]]))
    renderers[n] = p.scatter("x", "y", source=src, size=15.5, fill_color=colors[n],
                             line_color="white", line_width=1)

legend = Legend(items=[LegendItem(label=n, renderers=[renderers[n]]) for n in names],
                location=(1396, 762), orientation="vertical",
                background_fill_alpha=0, border_line_color=None, padding=0, margin=0,
                glyph_width=33, glyph_height=33, label_standoff=30, spacing=4,
                label_text_font=FONT, label_text_font_size="25px", label_text_color="#262626")
p.add_layout(legend)
p.add_layout(Label(x=11.71, y=9.085, text="Activities", text_font=FONT, text_font_size="25px",
                   text_color="#262626", text_baseline="alphabetic"))

open("out.html", "w").write(file_html(p, INLINE))
